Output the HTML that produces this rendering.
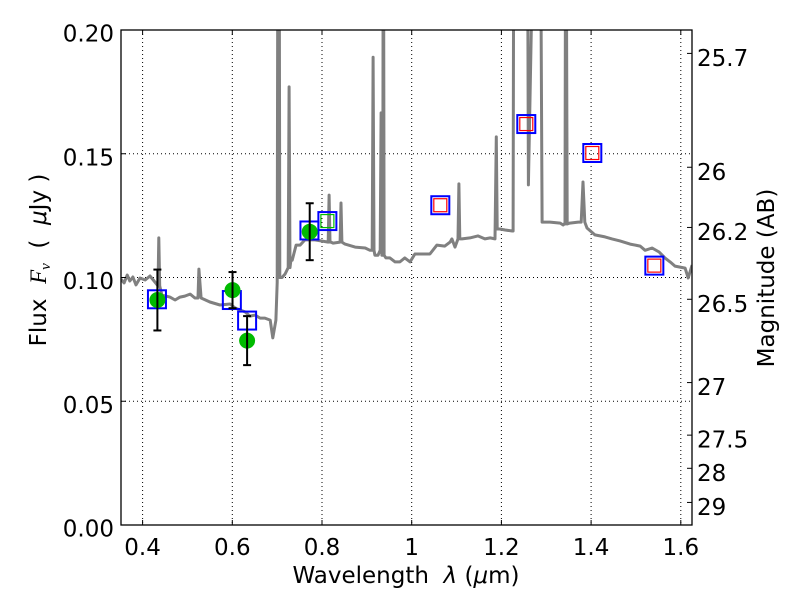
<!DOCTYPE html>
<html><head><meta charset="utf-8">
<style>
html,body{margin:0;padding:0;background:#fff;}
svg text{font-family:"DejaVu Sans","Liberation Sans",sans-serif;white-space:pre;}
</style></head>
<body>
<svg id="chart" width="800" height="600" viewBox="0 0 800 600" xmlns="http://www.w3.org/2000/svg">
<rect x="0" y="0" width="800" height="600" fill="#fff"/>
<defs><clipPath id="pc"><rect x="121" y="30" width="571" height="495"/></clipPath></defs>
<g id="grid"></g>
<g id="plot" clip-path="url(#pc)"></g>
<g id="axes"></g>
</svg>
<script>
const specWave=[.3519,.3587,.3656,.3715,.3784,.3852,.3941,.4058,.4166,.4274,.4343,.4362,.4382,.4431,.4608,.4725,.4833,.4941,.5059,.5167,.5235,.5255,.5304,.5500,.5726,.5952,.6060,.6168,.6285,.6393,.6511,.6619,.6727,.6845,.6903,.6972,.7001,.7021,.7041,.7060,.7109,.7178,.7247,.7266,.7286,.7306,.7335,.7423,.7512,.7619,.7737,.7845,.8139,.8159,.8179,.8198,.8247,.8404,.8424,.8444,.8512,.8738,.8963,.9071,.9120,.9140,.9160,.9179,.9248,.9297,.9317,.9336,.9356,.9366,.9385,.9424,.9454,.9513,.9630,.9738,.9846,.9964,1.0072,1.0405,1.0562,1.0739,1.0857,1.0896,1.0965,1.1033,1.1053,1.1073,1.1122,1.1298,1.1475,1.1632,1.1750,1.1858,1.1887,1.1907,1.1926,1.1966,1.2083,1.2240,1.2260,1.2280,1.2544,1.2574,1.2603,1.2770,1.2858,1.2907,1.3084,1.3310,1.3378,1.3398,1.3418,1.3437,1.3467,1.3525,1.3712,1.3780,1.3819,1.3859,1.3908,1.4084,1.4310,1.4467,1.4644,1.4869,1.5095,1.5203,1.5360,1.5517,1.5645,1.5762,1.5870,1.6096,1.6164,1.6253];
const specFlux=[.0994,.0978,.101,.0986,.1002,.097,.0998,.099,.1006,.0982,.0966,.116,.0966,.0929,.0921,.0909,.0921,.0925,.0933,.0917,.0917,.1034,.0917,.0901,.0889,.0893,.0877,.0869,.0861,.0844,.0848,.0836,.0836,.0828,.0756,.0828,.098,.30,.30,.100,.100,.1014,.104,.177,.104,.107,.107,.1131,.1131,.1152,.1152,.1152,.1143,.1333,.1143,.1143,.1139,.1143,.1301,.1143,.1135,.1123,.1119,.111,.111,.189,.111,.109,.109,.111,.1665,.109,.109,.30,.109,.1079,.1079,.1079,.1063,.1063,.1079,.1063,.1095,.1095,.1131,.1127,.1143,.1156,.1123,.1156,.1378,.1156,.1156,.116,.1168,.1156,.116,.1156,.1568,.1196,.1196,.1196,.1192,.1188,.1188,.30,.30,.30,.1374,.30,.30,.1224,.1224,.122,.1212,.1216,.1216,.30,.1216,.122,.1224,.1224,.1386,.1224,.12,.1172,.1164,.1156,.1148,.1135,.1127,.111,.1119,.1103,.1079,.1063,.1046,.1038,.0998,.105];
const photWave=[.433,.6005,.633,.7726];
const photFlux=[.0909,.0949,.0745,.1185];
const photErr=[.0123,.0073,.0099,.0115];
const modelWave=[.432,.599,.633,.772,.812,1.0638,1.2555,1.4027,1.541];
const modelFlux=[.0912,.0909,.0826,.1190,.1228,.1292,.1620,.1503,.1048];
const innerColor=["none","none","none","none","#00bb00","red","red","red","red"];
const xTicks=[0.4,0.6,0.8,1.0,1.2,1.4,1.6];
const xTickLabels=["0.4","0.6","0.8","1","1.2","1.4","1.6"];
const yTicks=[0,0.05,0.10,0.15,0.20];
const yTickLabels=["0.00","0.05","0.10","0.15","0.20"];
const magTicks=[25.7,26,26.2,26.5,27,27.5,28,29];
const magLabels=["25.7","26","26.2","26.5","27","27.5","28","29"];

const L=121,R=692,T=30,B=525;
const X=v=>142.6+(v-0.4)*448.5;
const Y=v=>B-(v/0.2)*(B-T);
const magToFlux=m=>Math.pow(10,(23.9-m)/2.5);
const NS="http://www.w3.org/2000/svg";
function mk(tag,attrs,parent){const e=document.createElementNS(NS,tag);for(const k in attrs)e.setAttribute(k,attrs[k]);parent.appendChild(e);return e;}
const grid=document.getElementById('grid'),plot=document.getElementById('plot'),axes=document.getElementById('axes');
const FS=23;

xTicks.forEach((t,i)=>{
  const g=mk('line',{x1:X(t),x2:X(t),y1:T,y2:B,stroke:'#000','stroke-width':1,'stroke-dasharray':'1,3'},grid);
  
  
  mk('line',{x1:X(t),x2:X(t),y1:B,y2:B-5,stroke:'#000'},axes);
  mk('line',{x1:X(t),x2:X(t),y1:T,y2:T+5,stroke:'#000'},axes);
  const tx=mk('text',{x:X(t),y:B+30,'font-size':FS,'text-anchor':'middle'},axes);
  tx.textContent=xTickLabels[i];
  
  
});
yTicks.forEach((t,i)=>{
  const g=mk('line',{x1:L,x2:R,y1:Y(t),y2:Y(t),stroke:'#000','stroke-width':1,'stroke-dasharray':'1,3'},grid);
  
  
  mk('line',{x1:L,x2:L+5,y1:Y(t),y2:Y(t),stroke:'#000'},axes);
  const tx=mk('text',{x:L-7,y:Y(t)+11.5,'font-size':FS,'text-anchor':'end'},axes);
  tx.textContent=yTickLabels[i];
  
  
});
magTicks.forEach((m,i)=>{
  const y=Y(magToFlux(m));
  mk('line',{x1:R,x2:R-5,y1:y,y2:y,stroke:'#000'},axes);
  const tx=mk('text',{x:R+5,y:y+12.5,'font-size':FS},axes);
  tx.textContent=magLabels[i];
  
  
});

let d='';
specWave.forEach((w,i)=>{d+=(i?'L':'M')+X(w).toFixed(1)+','+Y(specFlux[i]).toFixed(1);});
const sp=mk('path',{d:d,fill:'none',stroke:'#808080','stroke-width':3,'stroke-linejoin':'round'},plot);



modelWave.forEach((w,i)=>{
  const cx=X(w),cy=Y(modelFlux[i]);
  if(innerColor[i]!=="none"){
    const ir=mk('rect',{x:cx-6.5,y:cy-6.5,width:13,height:13,fill:'none',stroke:innerColor[i],'stroke-width':1.2},plot);
    
    
  }
  const r=mk('rect',{x:cx-9,y:cy-9,width:18,height:18,fill:'none',stroke:'#0000ff','stroke-width':2},plot);
  
  
});

photWave.forEach((w,i)=>{
  const cx=X(w),cy=Y(photFlux[i]),y1=Y(photFlux[i]+photErr[i]),y2=Y(photFlux[i]-photErr[i]);
  const g=mk('g',{},plot);
  
  
  mk('circle',{cx:cx,cy:cy,r:8,fill:'#00bb00'},g);
  mk('line',{x1:cx,x2:cx,y1:y1,y2:y2,stroke:'#000','stroke-width':2},g);
  mk('line',{x1:cx-4,x2:cx+4,y1:y1,y2:y1,stroke:'#000','stroke-width':2},g);
  mk('line',{x1:cx-4,x2:cx+4,y1:y2,y2:y2,stroke:'#000','stroke-width':2},g);
});

const fr=mk('rect',{x:L,y:T,width:R-L,height:B-T,fill:'none',stroke:'#000','stroke-width':1.3},axes);



const xl=mk('text',{x:406,y:583,'font-size':FS,'text-anchor':'middle'},axes);
xl.innerHTML='Wavelength  <tspan font-style="italic">λ</tspan> (<tspan font-style="italic">μ</tspan>m)';


const yl=mk('text',{x:0,y:0,'font-size':FS,'text-anchor':'middle',transform:'translate(46,260) rotate(-90)'},axes);
yl.innerHTML='Flux  <tspan font-family="Liberation Serif" font-style="italic">F<tspan font-size="15" dy="4">ν</tspan></tspan><tspan dy="-4">  (  </tspan><tspan font-style="italic">μ</tspan>Jy )';


const rl=mk('text',{x:0,y:0,'font-size':FS,'text-anchor':'middle',transform:'translate(774,278) rotate(-90)'},axes);
rl.textContent='Magnitude (AB)';


</script>
</body></html>
